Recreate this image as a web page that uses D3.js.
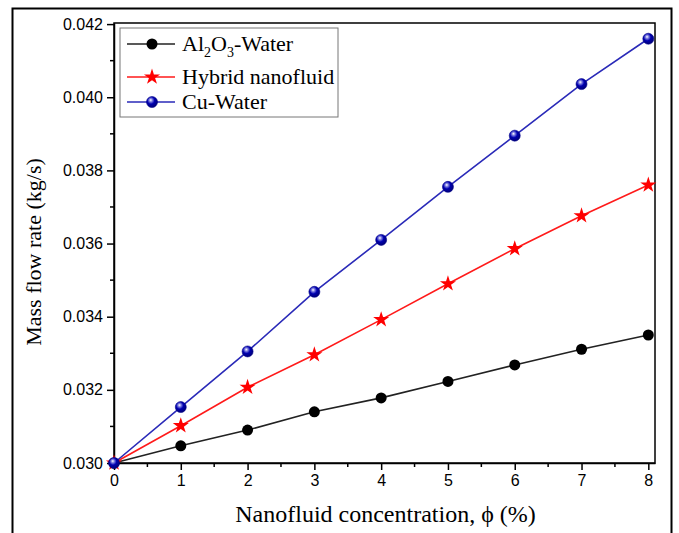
<!DOCTYPE html>
<meta charset="utf-8">
<style>
body { margin: 0; background: #fff; }
.tick text { font-family: "Liberation Sans", Arial, sans-serif; font-size: 16px; fill: #000; }
.title { font-family: "Liberation Serif", "Times New Roman", serif; font-size: 22px; fill: #000; }
.leg { font-family: "Liberation Serif", "Times New Roman", serif; font-size: 22px; fill: #000; }
</style>
<body>
<div id="chart"></div>
<script src="https://d3js.org/d3.v7.min.js"></script>
<script>

var width = 679,
    height = 533;

var concentration = [0, 1, 2, 3, 4, 5, 6, 7, 8];
var al2o3 = [0.0300, 0.03047, 0.0309, 0.0314, 0.03178, 0.03223, 0.03268, 0.03311, 0.0335];
var hybrid = [0.0300, 0.03102, 0.03207, 0.03296, 0.03392, 0.0349, 0.03586, 0.03676, 0.0376];
var cu = [0.0300, 0.03153, 0.03305, 0.03468, 0.0361, 0.03755, 0.03895, 0.04036, 0.0416];
var xTicks = [0, 1, 2, 3, 4, 5, 6, 7, 8];
var yTicks = [0.030, 0.032, 0.034, 0.036, 0.038, 0.040, 0.042];

var series = [
  { name: "Al2O3-Water", values: al2o3, color: "#222", marker: "circle" },
  { name: "Hybrid nanofluid", values: hybrid, color: "#ff1a1a", marker: "star" },
  { name: "Cu-Water", values: cu, color: "#2a2ab8", marker: "ball" }
];

var margin = { left: 114, right: 24, top: 23, bottom: 70 };

var svg = d3.select("#chart").append("svg")
    .attr("width", width)
    .attr("height", height);

var defs = svg.append("defs");
var grad = defs.append("radialGradient")
    .attr("id", "ball")
    .attr("cx", "0.42").attr("cy", "0.38").attr("r", "0.6")
    .attr("fx", "0.38").attr("fy", "0.32");
grad.append("stop").attr("offset", "0").attr("stop-color", "#fff");
grad.append("stop").attr("offset", "0.25").attr("stop-color", "#7d7de0");
grad.append("stop").attr("offset", "0.55").attr("stop-color", "#0000b0");
grad.append("stop").attr("offset", "1").attr("stop-color", "#00007a");

// outer frame
svg.append("path")
    .attr("d", "M12.5," + height + "V8.5H671.5V" + height)
    .attr("fill", "none")
    .attr("stroke", "#000")
    .attr("stroke-width", 2);

var x = d3.scaleLinear().domain([0, 8.1]).range([margin.left, width - margin.right]);
var y = d3.scaleLinear().domain([0.030, 0.04203]).range([height - margin.bottom, margin.top]);

var x0 = margin.left, x1 = width - margin.right,
    y0 = height - margin.bottom, y1 = margin.top;

// minor ticks
var xMinor = d3.range(0.5, 8.1, 1);
svg.append("g").selectAll("line").data(xMinor).enter().append("line")
    .attr("x1", d => x(d)).attr("x2", d => x(d))
    .attr("y1", y0).attr("y2", y0 + 4)
    .attr("stroke", "#000").attr("stroke-width", 1.5);
var yMinor = d3.range(0.031, 0.042, 0.002);
svg.append("g").selectAll("line").data(yMinor).enter().append("line")
    .attr("x1", x0 - 4).attr("x2", x0)
    .attr("y1", d => y(d)).attr("y2", d => y(d))
    .attr("stroke", "#000").attr("stroke-width", 1.5);

// frame
svg.append("rect")
    .attr("x", x0).attr("y", y1)
    .attr("width", x1 - x0).attr("height", y0 - y1)
    .attr("fill", "none").attr("stroke", "#000").attr("stroke-width", 1.5);

var xAxis = svg.append("g")
    .attr("transform", "translate(0," + y0 + ")")
    .call(d3.axisBottom(x).tickValues(xTicks).tickSize(7).tickPadding(5).tickSizeOuter(0));
var yAxis = svg.append("g")
    .attr("transform", "translate(" + x0 + ",0)")
    .call(d3.axisLeft(y).tickValues(yTicks).tickSize(7).tickPadding(4).tickSizeOuter(0).tickFormat(d3.format(".3f")));
[xAxis, yAxis].forEach(function(a) {
  a.select(".domain").attr("stroke-width", 1.5);
  a.selectAll(".tick line").attr("stroke-width", 1.5);
});

var line = d3.line()
    .x((d, i) => x(concentration[i]))
    .y(d => y(d));

var star = d3.symbol().type(d3.symbolStar).size(80);

function drawMarker(g, s) {
  if (s.marker === "circle") {
    g.append("circle").attr("r", 5.5).attr("fill", "#000");
  } else if (s.marker === "star") {
    g.append("path").attr("d", star).attr("fill", "#ff0000");
  } else {
    g.append("circle").attr("r", 5.5).attr("fill", "url(#ball)").attr("stroke", "#00008a").attr("stroke-width", 0.6);
  }
}

series.forEach(function(s) {
  svg.append("path")
      .datum(s.values)
      .attr("d", line)
      .attr("fill", "none")
      .attr("stroke", s.color)
      .attr("stroke-width", 1.6);
  svg.append("g").selectAll("g").data(s.values).enter().append("g")
      .attr("transform", (d, i) => "translate(" + x(concentration[i]) + "," + y(d) + ")")
      .each(function() { drawMarker(d3.select(this), s); });
});

// axis titles
svg.append("text")
    .attr("class", "title")
    .attr("x", (x0 + x1) / 2 + 1)
    .attr("y", 522)
    .attr("text-anchor", "middle")
    .style("font-size", "24px")
    .text("Nanofluid concentration, \u03d5 (%)");
svg.append("text")
    .attr("class", "title")
    .attr("transform", "translate(41,252) rotate(-90)")
    .attr("text-anchor", "middle")
    .text("Mass flow rate (kg/s)");

// legend
var legend = svg.append("g").attr("transform", "translate(120,28)");
legend.append("rect")
    .attr("width", 218).attr("height", 89)
    .attr("fill", "#fff").attr("stroke", "#777").attr("stroke-width", 1);
var rowY = [16, 49, 74];
series.forEach(function(s, i) {
  var row = legend.append("g").attr("transform", "translate(0," + rowY[i] + ")");
  row.append("line").attr("x1", 7).attr("x2", 55)
      .attr("stroke", s.color).attr("stroke-width", 1.6);
  drawMarker(row.append("g").attr("transform", "translate(32,0)"), s);
  var t = row.append("text").attr("class", "leg").attr("x", 62).attr("y", 7);
  if (i === 0) {
    t.append("tspan").text("Al");
    t.append("tspan").attr("font-size", 14).attr("dy", 6).text("2");
    t.append("tspan").attr("dy", -6).text("O");
    t.append("tspan").attr("font-size", 14).attr("dy", 6).text("3");
    t.append("tspan").attr("dy", -6).text("-Water");
  } else {
    t.text(s.name);
  }
});

</script>
</body>
